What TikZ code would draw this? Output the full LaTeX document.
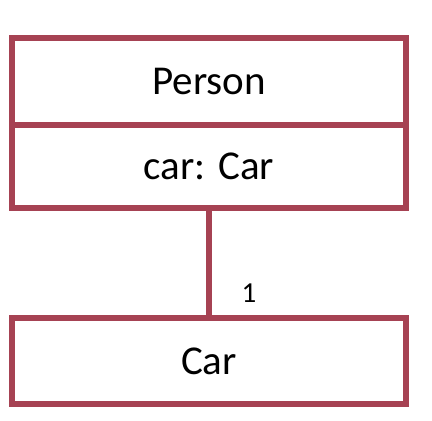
\documentclass[tikz,border=0pt]{standalone}
\usepackage{fontspec}
\setmainfont{Carlito}
\usetikzlibrary{positioning}
\definecolor{umlred}{HTML}{A64253}
\tikzstyle{classbox}=[rectangle, draw=umlred, line width=5.5pt,
                      minimum width=394pt, minimum height=87pt,
                      inner sep=0pt, outer sep=0pt,
                      font=\fontsize{41}{49}\selectfont]
\tikzstyle{assoc}   =[draw=umlred, line width=5.5pt]
\tikzstyle{mult}    =[inner sep=1pt, fill=none, draw=none,
                      font=\fontsize{29}{34}\selectfont]
\begin{document}
\begin{tikzpicture}[x=1pt, y=1pt]
    \useasboundingbox (0,0) rectangle (432,421);
    \node (person) [classbox] at (209,339.5) {Person};
    \node (attr) [classbox, minimum height=83pt, below=0pt of person] {car: Car};
    \node (car) [classbox, minimum height=86pt] at (209,60) {Car};
    \node (one) [mult] at (249,128) {1};
    \draw [assoc] (attr) to (car);
\end{tikzpicture}
\end{document}
